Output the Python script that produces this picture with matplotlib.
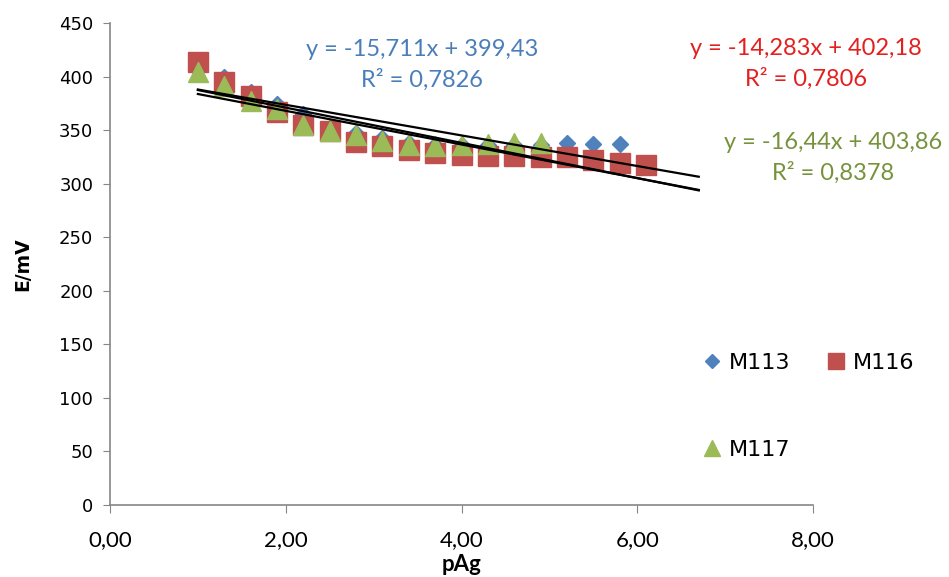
import numpy as np
from matplotlib import pyplot as plt

# measured potentials (mV) vs pAg
pag_113 = [1.0, 1.3, 1.6, 1.9, 2.2, 2.5, 2.8, 3.1, 3.4, 3.7, 4.0, 4.3, 4.6, 4.9, 5.2, 5.5, 5.8]
e_113 = [406, 400, 386, 374, 365, 352, 347, 343, 338, 336, 336, 336, 336, 336, 338, 337, 337]

pag_116 = [1.0, 1.3, 1.6, 1.9, 2.2, 2.5, 2.8, 3.1, 3.4, 3.7, 4.0, 4.3, 4.6, 4.9, 5.2, 5.5, 5.8, 6.1]
e_116 = [414, 395, 382, 367, 355, 349, 339, 335, 331, 329, 327, 326, 326, 325, 325, 322, 319, 317]

pag_117 = [1.0, 1.3, 1.6, 1.9, 2.2, 2.5, 2.8, 3.1, 3.4, 3.7, 4.0, 4.3, 4.6, 4.9]
e_117 = [404, 391, 377, 370, 355, 349, 345, 340, 336, 335, 336, 337, 338, 338]

# trendline coefficients (slope, intercept, r2) as printed on the chart
fit_113 = [-15.711, 399.43, 0.7826]
fit_116 = [-14.283, 402.18, 0.7806]
fit_117 = [-16.44, 403.86, 0.8378]
trend_x = [1.0, 6.7]

x_ticks = [0, 2, 4, 6, 8]
x_labels = ['0,00', '2,00', '4,00', '6,00', '8,00']
y_ticks = [0, 50, 100, 150, 200, 250, 300, 350, 400, 450]


def fmt(v, nd):
    return ('%.*f' % (nd, v)).replace('.', ',')


fig = plt.figure(figsize=(9.49, 5.77), dpi=100)
ax = fig.add_axes([110 / 949, 72 / 577, 703 / 949, 482 / 577])

blue = '#4F81BD'
red = '#C0504D'
green = '#9BBB59'

h1, = ax.plot(pag_113, e_113, 'D', color=blue, ms=8, mec=blue, label='M113', zorder=3)
h2, = ax.plot(pag_116, e_116, 's', color=red, ms=14, mec=red, label='M116', zorder=4)
h3, = ax.plot(pag_117, e_117, '^', color=green, ms=14, mec=green, label='M117', zorder=5)

tx = np.array(trend_x)
for fit in (fit_113, fit_116, fit_117):
    ax.plot(tx, fit[0] * tx + fit[1], color='black', lw=1.6, zorder=6)

eq_font = dict(family='Lato', fontsize=17, ha='center', va='center')
ax.text(3.55, 425, 'y = ' + fmt(fit_113[0], 3) + 'x + ' + fmt(fit_113[1], 2), color='#4A7EBB', **eq_font)
ax.text(3.55, 397, 'R² = ' + fmt(fit_113[2], 4), color='#4A7EBB', **eq_font)
ax.text(7.92, 426, 'y = ' + fmt(fit_116[0], 3) + 'x + ' + fmt(fit_116[1], 2), color='#E3201E', **eq_font)
ax.text(7.92, 398, 'R² = ' + fmt(fit_116[2], 4), color='#E3201E', **eq_font)
ax.text(8.23, 338, 'y = ' + fmt(fit_117[0], 2) + 'x + ' + fmt(fit_117[1], 2), color='#76923C', **eq_font)
ax.text(8.23, 310, 'R² = ' + fmt(fit_117[2], 4), color='#76923C', **eq_font)

ax.set_xlim(0, 8)
ax.set_ylim(0, 450)
ax.set_xticks(x_ticks)
ax.set_xticklabels(x_labels, family='Lato', fontsize=16)
ax.set_yticks(y_ticks)
ax.tick_params(axis='y', labelsize=13, length=5, color='#868686', pad=7)
ax.tick_params(axis='x', length=6, color='#868686', pad=12)
for lab in ax.get_yticklabels():
    lab.set_family('DejaVu Sans')

for side in ('top', 'right'):
    ax.spines[side].set_visible(False)
for side in ('left', 'bottom'):
    ax.spines[side].set_color('#868686')
    ax.spines[side].set_linewidth(1.2)

ax.set_xlabel('pAg', family='Lato', fontsize=16, fontweight='bold', labelpad=3)
ax.set_ylabel('E/mV', fontsize=13.5, fontweight='bold', labelpad=19)

leg = ax.legend(handles=[h1, h3, h2], ncol=2, loc='upper left',
                bbox_to_anchor=(690 / 949, 235 / 577), bbox_transform=fig.transFigure,
                frameon=False, prop=dict(family='DejaVu Sans', size=16),
                labelspacing=3.0, handletextpad=0.23, columnspacing=1.58,
                handlelength=1.0, borderpad=0, markerscale=0.85)

fig.savefig('out.png', dpi=100)
